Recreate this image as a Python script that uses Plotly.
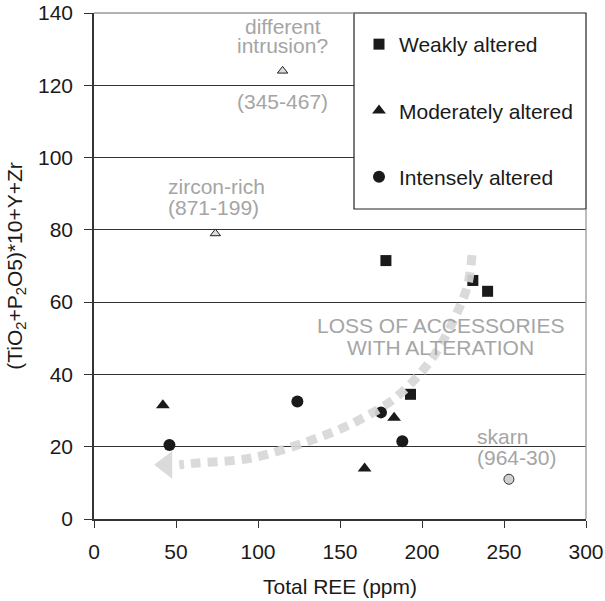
import plotly.graph_objects as go

FONT = "Liberation Sans, Arial, sans-serif"
GRAY_TXT = "#a5a5a5"
ARROW = "#d7d7d7"
FS = 21

# Data
weak_x = [178, 231, 240, 193]
weak_y = [71.5, 66, 63, 34.5]
mod_x = [42, 165, 183]
mod_y = [31.5, 14, 28]
int_x = [46, 124, 175, 188]
int_y = [20.5, 32.5, 29.5, 21.5]
special_tri_x = [74, 115]
special_tri_y = [79, 124]
skarn_x = [253]
skarn_y = [11]
arrow_x = [230.5, 228, 223, 207, 185, 160, 130, 95, 63, 52]
arrow_y = [73, 65, 58.7, 45, 34, 27, 21.4, 16.8, 15.5, 15]
arrow_head_x = [44]
arrow_head_y = [15]

x_ticks = [0, 50, 100, 150, 200, 250, 300]
y_ticks = [0, 20, 40, 60, 80, 100, 120, 140]

# label lines: text, x, y, anchor
labels = [
    ("different", 115, 136.4, "center"),
    ("intrusion?", 115, 130.9, "center"),
    ("(345-467)", 115, 115.4, "center"),
    ("zircon-rich", 44.0, 91.9, "left"),
    ("(871-199)", 44.0, 86.2, "left"),
    ("LOSS OF ACCESSORIES", 211.3, 53.5, "center"),
    ("WITH ALTERATION", 211.3, 47.5, "center"),
    ("skarn", 232.3, 22.8, "left"),
    ("(964-30)", 232.3, 17.0, "left"),
]

fig = go.Figure()

fig.add_trace(go.Scatter(x=weak_x, y=weak_y, mode="markers", name="Weakly altered",
                         legendgroup="a",
                         marker=dict(symbol="square", size=11, color="#1a1a1a")))
fig.add_trace(go.Scatter(x=mod_x, y=mod_y, mode="markers", name="Moderately altered",
                         legendgroup="b",
                         marker=dict(symbol="triangle-up", size=12, color="#1a1a1a")))
fig.add_trace(go.Scatter(x=int_x, y=int_y, mode="markers", name="Intensely altered",
                         legendgroup="c",
                         marker=dict(symbol="circle", size=12, color="#1a1a1a")))
fig.add_trace(go.Scatter(x=special_tri_x, y=special_tri_y, mode="markers", showlegend=False,
                         marker=dict(symbol="triangle-up", size=9, color="#dcdcdc",
                                     line=dict(color="#222", width=1))))
fig.add_trace(go.Scatter(x=skarn_x, y=skarn_y, mode="markers", showlegend=False,
                         marker=dict(symbol="circle", size=10, color="#d0d0d0",
                                     line=dict(color="#333", width=1))))
fig.add_trace(go.Scatter(x=arrow_x, y=arrow_y, mode="lines", showlegend=False,
                         line=dict(color=ARROW, width=9, dash="10px,7px", shape="spline"),
                         opacity=0.92, hoverinfo="skip"))
fig.add_trace(go.Scatter(x=arrow_head_x, y=arrow_head_y, mode="markers", showlegend=False,
                         marker=dict(symbol="triangle-left", size=24, color=ARROW),
                         opacity=0.92, hoverinfo="skip"))

W, H = 605, 601
L, T = 94, 13
R, B = 605 - 586, 601 - 519
pw = W - L - R
ph = H - T - B

box_left = (354 - L) / pw
box_bottom = (519 - 209) / ph

shapes = [
    dict(type="rect", xref="paper", yref="paper", x0=box_left, x1=1.0, y0=box_bottom, y1=1.0,
         fillcolor="white", line=dict(color="#222", width=1.2), layer="above"),
    dict(type="line", xref="paper", yref="paper", x0=0, x1=box_left, y0=1, y1=1,
         line=dict(color="#9a9a9a", width=1.3), layer="above"),
    dict(type="line", xref="paper", yref="paper", x0=1, x1=1, y0=0, y1=box_bottom,
         line=dict(color="#9a9a9a", width=1.3), layer="above"),
]

ann_font = dict(family=FONT, size=FS, color=GRAY_TXT)
annotations = [
    dict(x=x, y=y, text=t, showarrow=False, xref="x", yref="y", font=ann_font,
         xanchor=a, yanchor="middle")
    for (t, x, y, a) in labels
]

fig.update_layout(
    width=W, height=H,
    margin=dict(l=L, r=R, t=T, b=B, autoexpand=False),
    paper_bgcolor="white", plot_bgcolor="white",
    font=dict(family=FONT, size=FS, color="#1a1a1a"),
    showlegend=True,
    legend=dict(x=(359 - L) / pw, y=1 - 11 / ph, xanchor="left", yanchor="top",
                bgcolor="rgba(0,0,0,0)", borderwidth=0,
                font=dict(family=FONT, size=FS, color="#1a1a1a"),
                traceorder="grouped", tracegroupgap=36, itemwidth=30),
    shapes=shapes,
    annotations=annotations,
    xaxis=dict(range=[0, 300], tickvals=x_ticks, ticktext=[str(v) for v in x_ticks],
               showgrid=False, zeroline=False, showline=True, linecolor="#333", linewidth=1.5,
               ticks="outside", ticklen=7, tickcolor="#333", tickwidth=1.3,
               ticklabelstandoff=6, ticklabeloverflow="allow",
               tickfont=dict(size=FS), fixedrange=True, automargin=False,
               title=dict(text="Total REE (ppm)", font=dict(size=FS), standoff=17)),
    yaxis=dict(range=[0, 140], tickvals=y_ticks, ticktext=[str(v) for v in y_ticks],
               showgrid=True, gridcolor="#333", gridwidth=1.2, zeroline=False,
               showline=True, linecolor="#333", linewidth=1.5,
               ticks="outside", ticklen=8, tickcolor="#333", tickwidth=1.3,
               ticklabelstandoff=7, ticklabeloverflow="allow",
               tickfont=dict(size=FS), fixedrange=True, automargin=False,
               title=dict(text="(TiO<sub>2</sub>+P<sub>2</sub>O5)*10+Y+Zr", font=dict(size=FS),
                          standoff=10)),
)

# remove the default 8px page margin so the figure fills the window exactly
fig.write_html("out.html", config={"displayModeBar": False},
               post_script="document.body.style.margin='0';")
